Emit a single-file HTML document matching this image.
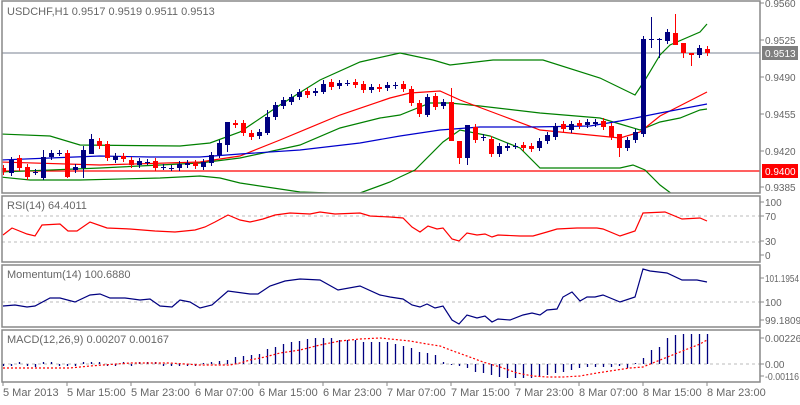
<!DOCTYPE html>
<html><head><meta charset="utf-8"><style>
body{margin:0;background:#fff;width:800px;height:400px;overflow:hidden}
svg text{font-family:"Liberation Sans",sans-serif;font-size:11px;fill:#666}
#ax text.r{font-size:10px}
</style></head><body>
<svg id="s" width="800" height="400" xmlns="http://www.w3.org/2000/svg">
<defs><clipPath id="cm"><rect x="2" y="2" width="758" height="191"/></clipPath></defs>
<rect x="0" y="0" width="800" height="400" fill="#fff"/>
<g id="main" clip-path="url(#cm)"></g>
<g id="ind"></g>
<g fill="none" stroke="#888" stroke-width="1.5">
<rect x="2" y="1" width="758" height="192"/>
<rect x="2" y="196" width="758" height="66"/>
<rect x="2" y="265" width="758" height="62"/>
<rect x="2" y="330" width="758" height="52"/>
</g>
<text x="7" y="15">USDCHF,H1  0.9517 0.9519 0.9511 0.9513</text>
<text x="7" y="209">RSI(14) 64.4011</text>
<text x="7" y="278">Momentum(14) 100.6880</text>
<text x="7" y="343">MACD(12,26,9) 0.00207 0.00167</text>
<g id="ax"></g>
</svg>
<script>
var NS="http://www.w3.org/2000/svg";
function el(p,t,a,txt){var e=document.createElementNS(NS,t);for(var k in a)e.setAttribute(k,a[k]);if(txt!=null)e.textContent=txt;document.getElementById(p).appendChild(e);return e;}
function pl(p,pts,c,extra){var s=pts.map(function(q){return q[0]+","+q[1]}).join(" ");var a={points:s,fill:"none",stroke:c,"stroke-width":1.2};for(var k in extra)a[k]=extra[k];el(p,"polyline",a);}
el("main","line",{x1:2,y1:53,x2:760,y2:53,stroke:"#7a8090","stroke-width":1});
el("main","line",{x1:2,y1:171,x2:760,y2:171,stroke:"#f00","stroke-width":1.2});
pl("main",[[0,134],[50,136],[80,145],[180,146],[210,143],[240,132],[280,105],[320,80],[360,62],[400,53],[433,60],[450,65],[493,60],[543,60],[600,78],[635,95],[645,80],[660,55],[670,45],[700,32],[707,24]],"#008000");
pl("main",[[0,172],[100,168],[200,163],[240,158],[300,145],[340,128],[380,118],[400,115],[430,103],[450,103],[480,106],[540,113],[600,118],[620,124],[640,130],[660,122],[680,118],[700,110],[707,109]],"#008000");
pl("main",[[0,177],[30,180],[80,180],[160,178],[200,176],[220,178],[240,183],[300,192],[330,193],[360,193],[390,182],[400,177],[415,170],[443,142],[460,130],[490,136],[520,148],[540,168],[620,168],[633,165],[645,170],[660,185],[672,194]],"#008000");
pl("main",[[0,162],[100,165],[200,162],[240,156],[280,140],[340,115],[390,98],[410,93],[440,91],[460,100],[500,115],[540,130],[580,134],[620,138],[640,132],[660,116],[707,92]],"#f00");
pl("main",[[0,160],[50,158],[100,156],[150,157],[200,157],[240,154],[300,150],[360,143],[400,136],[440,130],[480,127],[530,127],[590,126],[620,121],[660,113],[707,104]],"#0000cc");
var C=[["r",168,172],["b",160,173],["r",158,168],["r",167,177],["d",172,172],["b",157,178],["b",153,157],["d",153,153],["r",153,177],["b",167,170],["b",150,168],["b",139,154],["r",141,146],["r",144,158],["b",156,160],["r",156,159],["r",160,165],["b",161,165],["d",162,162],["r",161,168],["d",167,167],["d",168,168],["b",164,168],["b",163,165],["r",163,166],["b",162,167],["b",155,163],["b",143,155],["b",122,145],["r",123,125],["r",123,133],["r",133,137],["b",132,136],["b",117,133],["b",105,117],["b",100,106],["b",97,102],["b",92,97],["r",91,95],["b",91,93],["b",84,92],["r",82,87],["b",83,86],["d",83,83],["r",82,85],["r",84,90],["b",87,90],["r",87,89],["b",85,88],
["b",85,86],["r",84,89],["r",89,103],["r",103,114],["b",97,115],["r",96,107],["b",102,106],["r",102,141],["r",141,158],["b",125,158],["r",127,140],["b",137,138],["r",139,154],["b",146,154],["b",146,148],["d",146,146],["r",145,148],["r",146,149],["b",141,148],["b",135,141],["b",126,137],["r",124,129],["b",124,130],["r",123,126],["b",122,125],["b",122,124],["r",121,127],["r",126,137],["r",134,148],["b",140,148],["b",132,140],["b",39,134],["d",39,39],["d",39,39],["b",32,41],["r",33,45],["r",43,53],["r",53,55],["b",48,55],["r",49,53]];
var W={81:[17,48],82:[38,58],84:[14,45],85:[43,58],86:[53,66],77:[134,157],57:[141,164],56:[88,141],58:[125,165],53:[94,117],11:[134,154],10:[146,178],5:[150,180],8:[150,178],28:[122,152],33:[110,135],40:[80,94],41:[79,90]};
C.forEach(function(c,i){var x=3+8*i,col=c[0]=="r"?"#f00":"#000080";var w=W[i]||[c[1]-3,c[2]+3];
el("main","line",{x1:x+.5,y1:w[0],x2:x+.5,y2:w[1],stroke:col,"stroke-width":1});
if(c[0]=="d")el("main","line",{x1:x-2,y1:c[1]+.5,x2:x+3,y2:c[1]+.5,stroke:col,"stroke-width":1});
else el("main","rect",{x:x-2,y:c[1],width:5,height:Math.max(1,c[2]-c[1]),fill:col});});
[[216],[242],[302],[364]].forEach(function(y){el("ind","line",{x1:2,y1:y[0],x2:760,y2:y[0],stroke:"#bbb","stroke-dasharray":"3,3","stroke-width":1});});
pl("ind",[[3,235],[12,228],[27,234],[35,236],[42,225],[60,224],[68,231],[77,231],[90,222],[107,228],[130,229],[155,231],[175,232],[195,230],[205,227],[215,222],[228,215],[240,220],[250,222],[263,219],[275,215],[290,213],[310,214],[320,212],[335,214],[360,213],[370,216],[390,217],[403,218],[412,227],[420,232],[428,226],[437,229],[443,228],[452,239],[459,241],[467,233],[477,235],[485,234],[492,237],[498,235],[520,236],[533,236],[547,232],[557,229],[577,228],[597,228],[603,229],[620,236],[635,231],[643,213],[665,212],[682,219],[700,218],[707,221]],"#f00");
pl("ind",[[3,306],[15,305],[27,307],[35,306],[50,298],[60,298],[75,302],[90,295],[100,294],[110,298],[125,298],[140,300],[150,299],[160,306],[172,307],[180,300],[190,302],[200,308],[212,305],[228,291],[250,294],[258,294],[270,286],[285,281],[300,279],[320,280],[338,290],[360,286],[380,295],[390,297],[403,299],[412,305],[420,307],[427,304],[435,308],[443,306],[452,320],[459,324],[467,315],[477,318],[485,316],[492,322],[498,319],[510,320],[523,315],[532,313],[540,315],[547,310],[557,309],[563,297],[572,292],[580,301],[587,297],[595,297],[603,295],[620,302],[635,297],[643,269],[650,271],[667,273],[682,280],[697,280],[707,282]],"#000080");
var H={0:366,1:366,2:362,3:366,4:367,5:362,6:362,7:366,8:366,9:366,10:362,11:362,12:362,13:366,14:366,15:362,16:366,17:362,18:362,19:362,20:366,21:366,22:366,23:366,24:366,25:363,26:362,27:361,28:360,29:357,30:356,31:355,32:354,33:349,34:347,35:344,36:342,37:341,38:339,39:338,40:338,41:338,42:340,43:340,44:340,45:342,46:342,47:342,48:342,49:344,50:346,51:348,52:352,53:353,54:355,55:362,56:365,57:366,58:368,59:372,60:373,61:375,62:377,63:378,64:378,65:378,66:378,67:377,68:375,69:373,70:372,71:370,72:368,73:367,74:367,75:367,76:367,77:366,78:368,79:363,80:358,81:350,82:347,83:338,84:335,85:334,86:334,87:334,88:334};
for(var i=0;i<89;i++){var x=3+8*i+.5;el("ind","line",{x1:x,y1:364,x2:x,y2:H[i],stroke:"#000080","stroke-width":1.3});}
pl("ind",[[3,368],[70,368],[90,366],[130,363],[170,363],[200,365],[230,365],[240,363],[250,360],[265,357],[280,353],[300,350],[320,345],[340,341],[360,339],[380,338],[390,339],[410,341],[427,344],[440,346],[453,351],[467,356],[483,362],[500,367],[517,373],[533,376],[547,377],[563,377],[580,376],[597,373],[610,371],[630,368],[643,367],[660,360],[680,352],[700,344],[707,340]],"#f00",{"stroke-dasharray":"2,2"});
function lab(y,t){el("ax","line",{x1:760,y1:y,x2:764,y2:y,stroke:"#888"});var e=el("ax","text",{x:765,y:y+4,"class":"r"},t);if(t.length>7){e.setAttribute("textLength","34");e.setAttribute("lengthAdjust","spacingAndGlyphs");}}
[[3,"0.9560"],[40,"0.9525"],[77,"0.9490"],[114,"0.9455"],[151,"0.9420"],[187,"0.9385"],[202,"100"],[216,"70"],[241,"30"],[255,"0"],[278,"101.1954"],[302,"100"],[320,"99.1809"],[338,"0.00226"],[364,"0.00"],[376,"-0.00116"]].forEach(function(a){lab(a[0],a[1]);});
el("ax","rect",{x:762,y:46,width:36,height:14,fill:"#7f7f7f"});
el("ax","text",{x:765,y:57,"class":"r",style:"fill:#fff"},"0.9513");
el("ax","rect",{x:762,y:164,width:36,height:14,fill:"#f00"});
el("ax","text",{x:765,y:175,"class":"r",style:"fill:#fff"},"0.9400");
var T=["5 Mar 2013","5 Mar 15:00","5 Mar 23:00","6 Mar 07:00","6 Mar 15:00","6 Mar 23:00","7 Mar 07:00","7 Mar 15:00","7 Mar 23:00","8 Mar 07:00","8 Mar 15:00","8 Mar 23:00"];
T.forEach(function(t,k){var x=3+64*k;el("ax","line",{x1:x,y1:382,x2:x,y2:386,stroke:"#888"});el("ax","text",{x:x,y:396},t);});
</script>
</body></html>
